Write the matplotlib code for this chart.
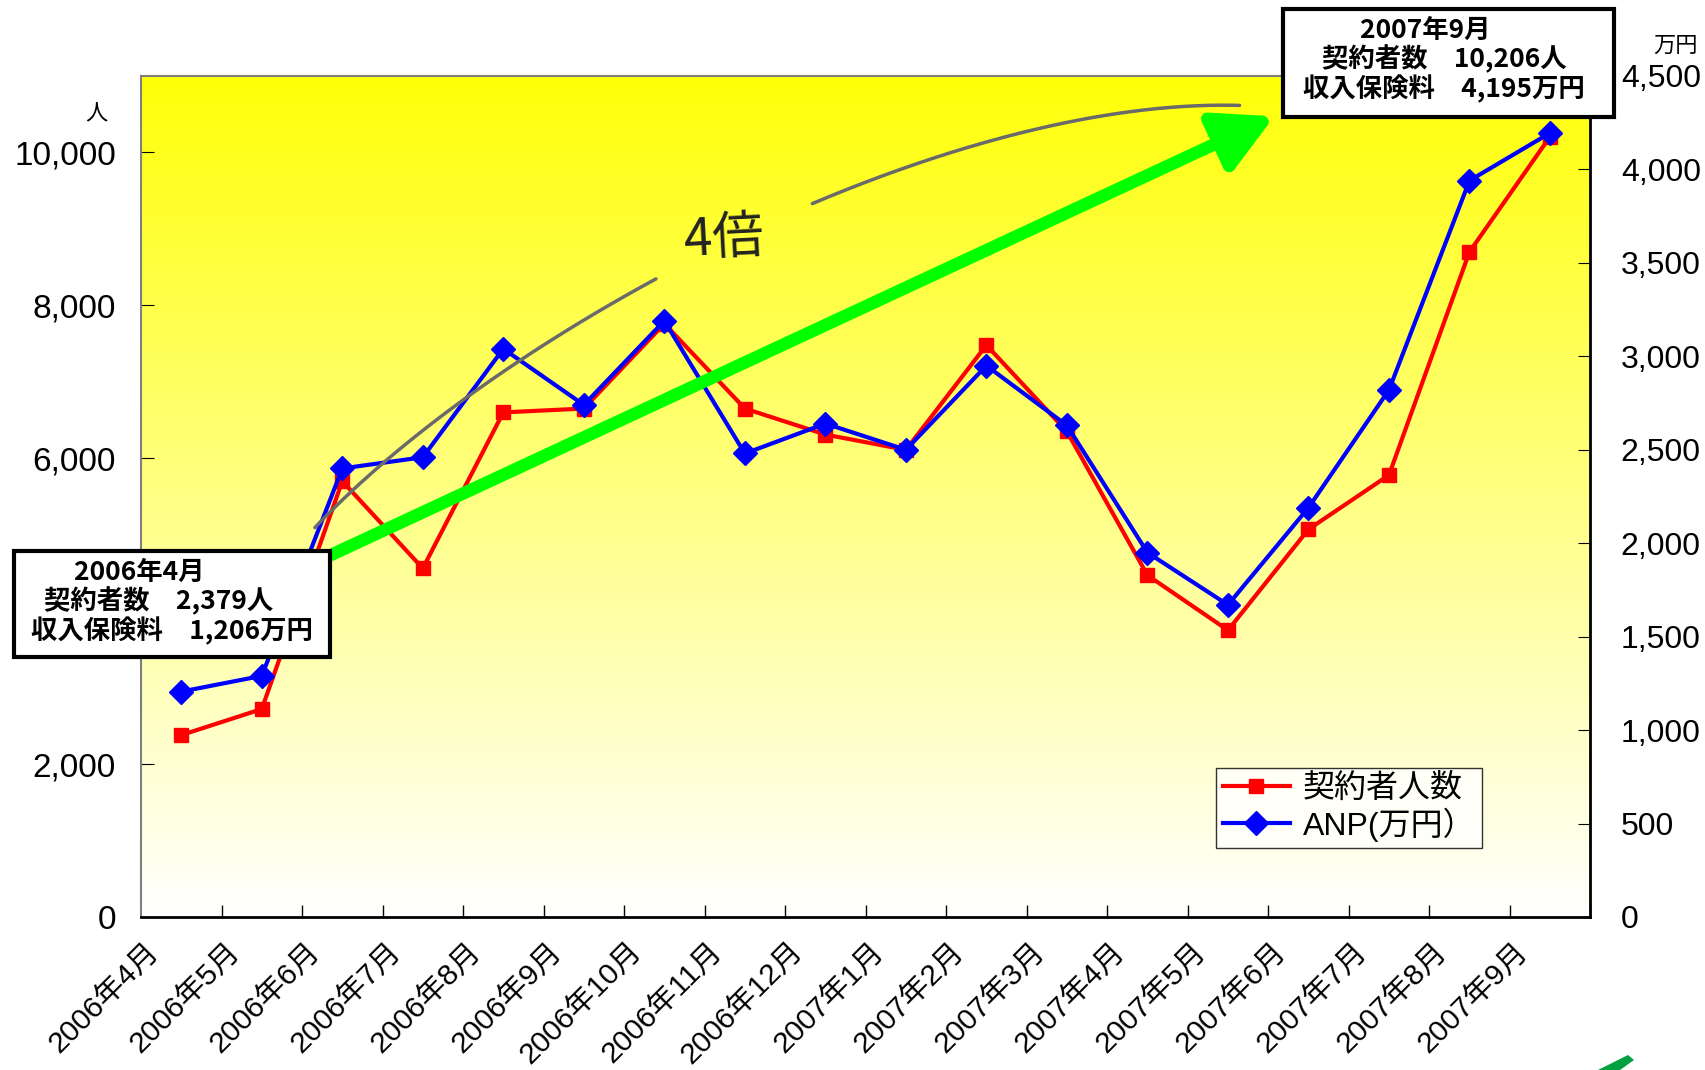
import numpy as np
import matplotlib
matplotlib.use('Agg')
import matplotlib.pyplot as plt
import matplotlib.transforms as mtransforms
from matplotlib.patches import Rectangle, Polygon

plt.rcParams['font.family'] = ['Liberation Sans', 'Noto Sans CJK JP', 'DejaVu Sans']

# data
months = ['2006年4月', '2006年5月', '2006年6月', '2006年7月', '2006年8月', '2006年9月',
          '2006年10月', '2006年11月', '2006年12月', '2007年1月', '2007年2月', '2007年3月',
          '2007年4月', '2007年5月', '2007年6月', '2007年7月', '2007年8月', '2007年9月']
contracts = [2379, 2720, 5700, 4560, 6600, 6650, 7760, 6650, 6310, 6110,
             7480, 6350, 4470, 3750, 5070, 5780, 8700, 10206]
anp = [1206, 1290, 2400, 2460, 3040, 2740, 3190, 2480, 2640, 2500,
       2950, 2630, 1950, 1670, 2190, 2820, 3940, 4195]
left_ticks = [0, 2000, 4000, 6000, 8000, 10000]
right_ticks = [0, 500, 1000, 1500, 2000, 2500, 3000, 3500, 4000, 4500]

W, H = 1705, 1070
fig = plt.figure(figsize=(W / 100, H / 100), dpi=100)
ax = fig.add_axes([0.0827, 0.143, 0.85, 0.786])
ax2 = ax.twinx()

x = np.arange(len(months))

# yellow -> white gradient background
grad = np.linspace(1, 0, 256)
cols = np.ones((256, 1, 3))
cols[:, 0, 2] = 1 - grad * 0.97
ax.imshow(cols, extent=[0, 1, 0, 1], transform=ax.transAxes, aspect='auto', zorder=0)

l1, = ax.plot(x, contracts, color='#ff0000', lw=3, marker='s', ms=9.5, zorder=3)
l2, = ax2.plot(x, anp, color='#0000ff', lw=3, marker='D', ms=12, zorder=3)

ax.set_xlim(-0.5, len(months) - 0.5)
ax.set_ylim(0, 11000)
ax2.set_ylim(0, 4500)

# the 4,000 label sits under the 2006年4月 box in the original
ax.set_yticks(left_ticks)
ax.set_yticklabels(['' if v == 4000 else f'{v:,}' for v in left_ticks], fontsize=24)
ax2.set_yticks(right_ticks)
ax2.set_yticklabels([f'{v:,}' for v in right_ticks], fontsize=23)

ax.set_xticks(x + 0.5, minor=False)
ax.set_xticks(x, minor=True)
ax.set_xticklabels([''] * len(x))
ax.tick_params(axis='x', which='major', direction='in', length=9, width=1, colors='black')
ax.tick_params(axis='x', which='minor', length=0, pad=12)
ax.set_xticklabels(months, minor=True, rotation=45, ha='right', rotation_mode='anchor',
                   fontsize=21.5)
shift = mtransforms.ScaledTranslation(-0.36, -0.04, fig.dpi_scale_trans)
for lab in ax.get_xticklabels(minor=True):
    lab.set_transform(lab.get_transform() + shift)
ax.tick_params(axis='y', direction='in', length=9, pad=18)
ax2.tick_params(axis='y', direction='in', length=9, pad=22)

for s in ['left', 'top']:
    ax.spines[s].set_color('#7f7f7f')
    ax.spines[s].set_linewidth(1.5)
ax.spines['bottom'].set_linewidth(2)
ax2.spines['right'].set_linewidth(2)
ax2.spines['top'].set_visible(False)
ax2.spines['left'].set_visible(False)
ax2.spines['bottom'].set_visible(False)

# curved "4倍" arc
t = np.linspace(0, 1, 300)
P = np.array([[0.120, 0.463], [0.25, 0.70], [0.55, 0.975], [0.758, 0.965]])
bx = ((1-t)**3)[:, None] * P[0] + (3*t*(1-t)**2)[:, None] * P[1] + \
     (3*t**2*(1-t))[:, None] * P[2] + (t**3)[:, None] * P[3]
seg1 = bx[bx[:, 0] < 0.357]
seg2 = bx[bx[:, 0] > 0.462]
for seg in (seg1, seg2):
    ax2.plot(seg[:, 0], seg[:, 1], color='#6a6a6a', lw=2.5, transform=ax2.transAxes,
             zorder=5, solid_capstyle='round')
ax2.text(0.402, 0.806, '4倍', transform=ax2.transAxes, fontsize=37, rotation=3,
         ha='center', va='center', color='#222222', family=['Noto Sans CJK JP'], zorder=6)

# green arrow
ax2.annotate('', xy=(0.782, 0.952), xytext=(0.128, 0.428),
             xycoords='axes fraction', textcoords='axes fraction',
             arrowprops=dict(arrowstyle='-|>,head_length=1.4,head_width=0.75',
                             lw=9, color='#00ff00', shrinkA=0, shrinkB=0,
                             mutation_scale=25), zorder=6)

leg = ax2.legend([l1, l2], ['契約者人数', 'ANP(万円）'], loc='lower right',
                 bbox_to_anchor=(0.936, 0.063), frameon=True,
                 fancybox=False, edgecolor='black', handlelength=2.1,
                 borderpad=0.2, labelspacing=0.1, handletextpad=0.4,
                 prop={'family': ['Liberation Sans', 'Noto Sans CJK JP'], 'size': 23})
leg.get_frame().set_linewidth(1)
leg.set_zorder(7)

# unit labels
fig.text(96 / W, 1 - 114 / H, '人', fontsize=16, ha='center', va='center',
         family=['Noto Sans CJK JP'])
fig.text(1675 / W, 1 - 45 / H, '万円', fontsize=16, ha='center', va='center',
         family=['Noto Sans CJK JP'])


def info_box(x0, y0, x1, y1, text, cx, cy):
    r = Rectangle((x0 / W, 1 - y1 / H), (x1 - x0) / W, (y1 - y0) / H,
                  transform=fig.transFigure, facecolor='white', edgecolor='black',
                  lw=3, zorder=10)
    fig.add_artist(r)
    fig.text(cx / W, 1 - cy / H, text, fontsize=19, fontweight='bold', ha='center',
             va='center', multialignment='center', linespacing=1.06, zorder=11,
             family=['Noto Sans CJK JP'])


info_box(1283, 9, 1614, 117, '2007年9月　  \n契約者数　10,206人\n収入保険料　4,195万円',
         1444, 60)
info_box(14, 551, 330, 657, '2006年4月　　  \n契約者数　2,379人　\n収入保険料　1,206万円',
         172, 602)

# green leaf fragment in corner
leaf = Polygon([[1598 / W, 0], [1628 / W, 15 / H], [1634 / W, 10 / H], [1620 / W, 0]],
               closed=True, transform=fig.transFigure, facecolor='#00a040', edgecolor='none')
fig.add_artist(leaf)

fig.savefig('out.png', dpi=100)
